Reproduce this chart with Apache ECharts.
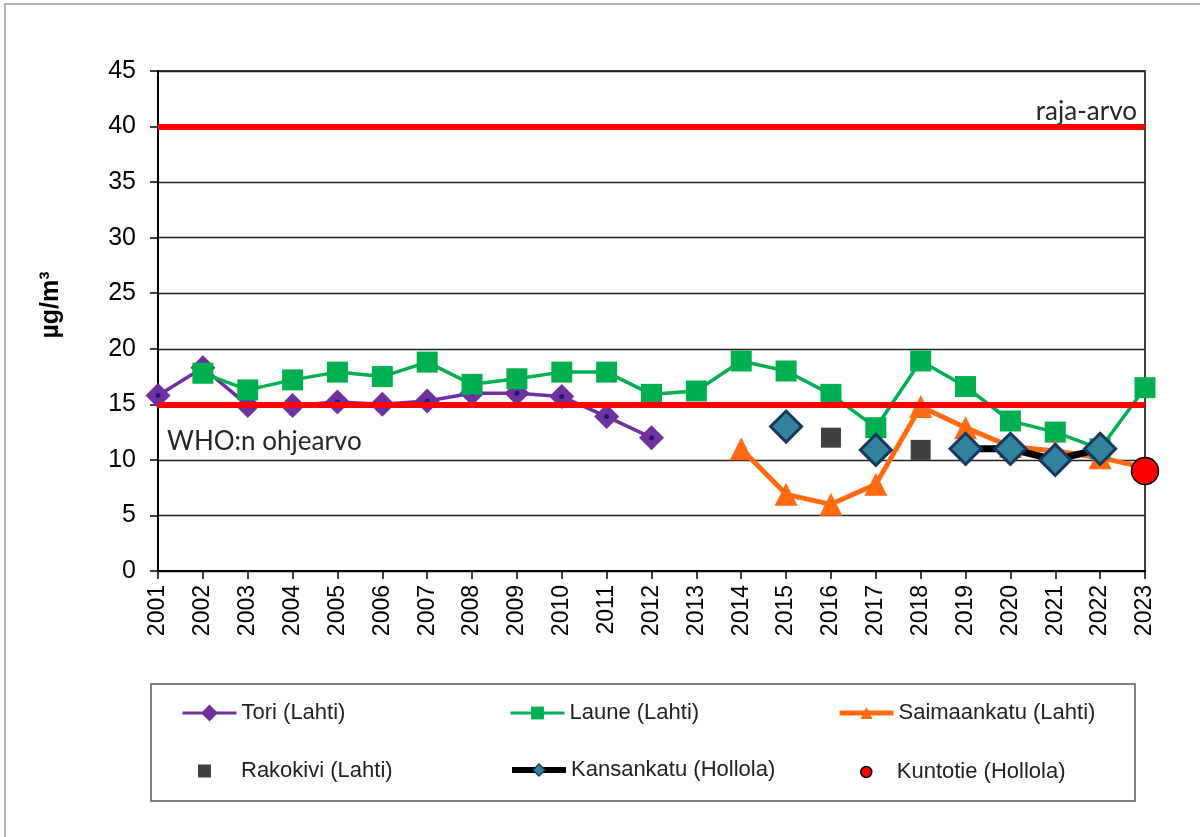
<!DOCTYPE html>
<html>
<head>
<meta charset="utf-8">
<title>Typpidioksidi</title>
<script src="https://cdn.jsdelivr.net/npm/echarts@6/dist/echarts.min.js"></script>
<style>
  html, body { margin: 0; padding: 0; background: #fff; }
  #chart { width: 1200px; height: 837px; }
</style>
</head>
<body>
<div id="chart"></div>
<script>
// vuodet
var years = ['2001', '2002', '2003', '2004', '2005', '2006', '2007', '2008', '2009', '2010', '2011', '2012',
  '2013', '2014', '2015', '2016', '2017', '2018', '2019', '2020', '2021', '2022', '2023']
var yTicks = { min: 0, max: 45, step: 5 }

// mittausasemat
var tori = [15.8, 18.3, 14.9, 14.9, 15.2, 15.0, 15.3, 16.0, 16.0, 15.7, 13.9, 12.0,
  null, null, null, null, null, null, null, null, null, null, null]
var laune = [null, 17.8, 16.3, 17.2, 17.9, 17.5, 18.8, 16.8, 17.3, 17.9, 17.9, 15.9,
  16.2, 18.9, 18.0, 15.9, 12.9, 18.9, 16.6, 13.5, 12.5, 11.0, 16.5]
var saimaankatu = [null, null, null, null, null, null, null, null, null, null, null, null,
  null, 11.0, 6.9, 6.0, 7.8, 14.8, 12.9, 11.2, 10.8, 10.2, 9.3]
var rakokivi = [null, null, null, null, null, null, null, null, null, null, null, null,
  null, null, null, 12.0, null, 10.9, null, null, null, null, null]
var kansankatu = [null, null, null, null, null, null, null, null, null, null, null, null,
  null, null, 13.0, null, 10.9, null, 11.0, 11.0, 10.0, 11.0, null]
var kuntotie = [null, null, null, null, null, null, null, null, null, null, null, null,
  null, null, null, null, null, null, null, null, null, null, 9.0]

// raja-arvot
var rajaArvo = 40
var whoArvo = 15

var chart = echarts.init(document.getElementById('chart'))

var labelFont = 'Liberation Sans, Arial, sans-serif'
var noteFont = 'Lato, Open Sans, sans-serif'

// yksi legenda per kohta, sijoitus kuten alkuperäisessä
function legendItem(name, left, top, itemWidth, itemHeight, extra) {
  var l = {
    data: [name],
    left: left,
    top: top,
    padding: 0,
    itemWidth: itemWidth,
    itemHeight: itemHeight,
    selectedMode: false,
    textStyle: { fontSize: 22, fontFamily: labelFont, color: '#222' }
  }
  return Object.assign(l, extra || {})
}

chart.setOption({
  animation: false,
  backgroundColor: '#fff',
  grid: {
    left: 158,
    right: 55,
    top: 71,
    bottom: 266,
    show: true,
    borderColor: '#000',
    borderWidth: 1.5
  },
  xAxis: {
    type: 'category',
    boundaryGap: false,
    data: years,
    axisLine: { lineStyle: { color: '#000', width: 2 } },
    axisTick: { show: true, length: 8, lineStyle: { color: '#000', width: 1.5 } },
    axisLabel: {
      rotate: 90,
      margin: 14,
      interval: 0,
      fontSize: 23,
      fontFamily: labelFont,
      color: '#000'
    },
    splitLine: { show: false }
  },
  yAxis: {
    type: 'value',
    min: yTicks.min,
    max: yTicks.max,
    interval: yTicks.step,
    axisLine: { show: true, lineStyle: { color: '#000', width: 2 } },
    axisTick: { show: true, length: 8, lineStyle: { color: '#000', width: 1.5 } },
    axisLabel: {
      margin: 22,
      fontSize: 25,
      fontFamily: labelFont,
      color: '#000'
    },
    splitLine: { lineStyle: { color: '#222', width: 1.3 } }
  },
  legend: [
    legendItem('Tori (Lahti)', 181, 702, 54, 21, { lineStyle: { width: 3 } }),
    legendItem('Laune (Lahti)', 509, 702, 54, 16, { lineStyle: { width: 3 } }),
    legendItem('Saimaankatu (Lahti)', 837, 702, 54, 15, { lineStyle: { width: 5 } }),
    legendItem('Rakokivi (Lahti)', 198, 760, 13, 13, {
      icon: 'rect',
      textStyle: { fontSize: 22, fontFamily: labelFont, color: '#222', padding: [0, 0, 0, 25] }
    }),
    legendItem('Kansankatu (Hollola)', 509, 759, 54, 15, {
      lineStyle: { width: 6 },
      itemStyle: { borderWidth: 1.5 }
    }),
    legendItem('Kuntotie (Hollola)', 860, 761, 11, 11, {
      icon: 'circle',
      itemStyle: { borderWidth: 1.5 },
      textStyle: { fontSize: 22, fontFamily: labelFont, color: '#222', padding: [0, 0, 0, 20] }
    })
  ],
  graphic: [
    {
      type: 'rect',
      shape: { x: 5, y: 4, width: 1400, height: 1000 },
      style: { fill: 'none', stroke: '#9a9a9a', lineWidth: 1.5 },
      silent: true
    },
    {
      type: 'rect',
      shape: { x: 151, y: 684, width: 984, height: 117 },
      style: { fill: 'none', stroke: '#555', lineWidth: 1.5 },
      silent: true
    },
    {
      type: 'text',
      x: 51,
      y: 305,
      rotation: Math.PI / 2,
      style: {
        text: 'µg/m³',
        font: 'bold 25px ' + labelFont,
        fill: '#000',
        align: 'center',
        verticalAlign: 'middle'
      },
      silent: true
    }
  ],
  series: [
    {
      name: 'Tori (Lahti)',
      type: 'line',
      z: 2,
      data: tori,
      symbol: 'diamond',
      symbolSize: 25,
      lineStyle: { color: '#7030A0', width: 3.5 },
      itemStyle: { color: '#7030A0' }
    },
    {
      // pieni tumma piste Torin merkkien keskellä
      name: 'Tori-piste',
      type: 'scatter',
      z: 2,
      data: tori,
      symbol: 'circle',
      symbolSize: 5,
      itemStyle: { color: '#1b1b6e', opacity: 1 },
      silent: true
    },
    {
      name: 'Raja-arvot',
      type: 'line',
      z: 3,
      data: [],
      markLine: {
        silent: true,
        symbol: 'none',
        lineStyle: { color: '#FF0000', width: 6, type: 'solid' },
        data: [
          {
            yAxis: rajaArvo,
            label: {
              show: true,
              position: 'insideEndTop',
              formatter: 'raja-arvo',
              distance: [8, 2],
              fontSize: 26,
              fontFamily: noteFont,
              color: '#262626'
            }
          },
          {
            yAxis: whoArvo,
            label: {
              show: true,
              position: 'insideStartBottom',
              formatter: 'WHO:n ohjearvo',
              distance: [9, 24],
              fontSize: 26,
              fontFamily: noteFont,
              color: '#262626'
            }
          }
        ]
      }
    },
    {
      name: 'Laune (Lahti)',
      type: 'line',
      z: 4,
      data: laune,
      symbol: 'rect',
      symbolSize: 21,
      lineStyle: { color: '#00B050', width: 3.5 },
      itemStyle: { color: '#00B050' }
    },
    {
      name: 'Saimaankatu (Lahti)',
      type: 'line',
      z: 4,
      data: saimaankatu,
      symbol: 'triangle',
      symbolSize: 23,
      lineStyle: { color: '#FF6A13', width: 5 },
      itemStyle: { color: '#FF6A13' }
    },
    {
      name: 'Rakokivi (Lahti)',
      type: 'scatter',
      z: 4,
      data: rakokivi,
      symbol: 'rect',
      symbolSize: 20,
      itemStyle: { color: '#404040', opacity: 1 }
    },
    {
      name: 'Kansankatu (Hollola)',
      type: 'line',
      z: 5,
      data: kansankatu,
      connectNulls: false,
      symbol: 'diamond',
      symbolSize: 31,
      lineStyle: { color: '#000', width: 7 },
      itemStyle: { color: '#31849B', borderColor: '#17375E', borderWidth: 3 }
    },
    {
      name: 'Kuntotie (Hollola)',
      type: 'scatter',
      z: 6,
      data: kuntotie,
      symbol: 'circle',
      symbolSize: 27,
      itemStyle: { color: '#FF0000', borderColor: '#000', borderWidth: 1.5, opacity: 1 }
    }
  ]
})
</script>
</body>
</html>
